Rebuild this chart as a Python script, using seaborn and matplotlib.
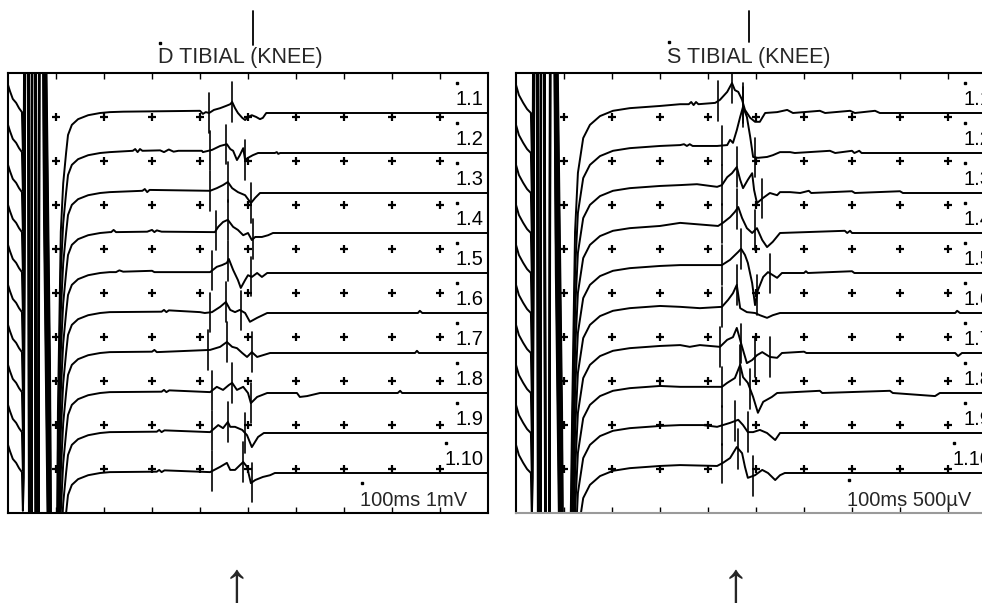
import numpy as np
import pandas as pd
import matplotlib
matplotlib.use("Agg")
import matplotlib.pyplot as plt
from matplotlib.lines import Line2D
import seaborn as sns

# ---------------- data (time in ms, amplitude in display divisions, up = +) -------------
TITLES = ["D TIBIAL (KNEE)", "S TIBIAL (KNEE)"]
SCALE_TEXT = ["100ms 1mV", "100ms 500µV"]
TRACE_LABELS = ["1.1", "1.2", "1.3", "1.4", "1.5", "1.6", "1.7", "1.8", "1.9", "1.10"]
GRID_T = [100, 200, 300, 400, 500, 600, 700, 800, 900]
GRID_ROWS = [1, 2, 3, 4, 5, 6, 7, 8, 9]

# stimulus artefact + recovery (shared by the traces of one panel)
D_ART = [(0, .64), (4, .5), (10, .32), (17, .23), (23, .11), (29, .02), (31, -.86), (33, -.11),
         (37.5, 14), (42, 14), (45, -14), (48, -14), (51, 14), (56, 14), (59, -14), (62.5, -14),
         (66, 14), (71, 14), (75, 5.7), (87.5, -5.7), (92, -14), (100, -14), (104, -6.8),
         (110, -2.7), (115, -1.6), (121, -.91), (125, -.5), (133, -.27), (146, -.14),
         (167, -.05), (192, 0), (212, .02)]
S_ART = [(0, .64), (6, .41), (15, .23), (23, .09), (31, 0), (33, -1.0), (35, -.11),
         (40, 14), (44, 14), (47, -14), (50, -14), (53, 14), (58, 14), (62.5, -14), (69, -14),
         (72, 14), (77, 14), (83, 4.5), (96, -6.8), (100, -14), (108, -14), (117, -6.8),
         (123, -2.7), (129, -1.36), (140, -.57), (154, -.27), (175, -.07), (202, .05),
         (237, .11), (300, .16)]

# left panel (D TIBIAL) responses
D1 = [(240, .03), (400, .05), (406, -.02), (412, .02), (419, 0), (429, .07), (442, .11), (454, .16),
      (463, .2), (467, .25), (473, .11), (479, 0), (488, -.11), (494, -.16), (500, -.09),
      (508, -.05), (517, -.09), (525, -.14), (531, -.11), (538, 0), (1000, 0)]
D2 = [(260, .05), (265, .09), (270, .02), (275, .09), (280, .05), (317, .06), (325, .02),
      (335, .08), (345, .03), (355, .05), (404, .05), (406, .02), (425, .07), (442, .16),
      (456, .2), (463, .09), (469, .05), (477, -.16), (483, -.05), (490, .11), (494, -.16),
      (500, -.11), (510, -.05), (521, 0), (556, 0), (560, .02), (563, -.02), (567, 0), (1000, 0)]
D3 = [(280, .05), (285, .09), (290, .02), (295, .07), (421, .05), (435, .11), (448, .18),
      (458, .25), (467, .11), (479, .02), (494, -.05), (506, -.23), (515, -.11), (525, 0), (1000, 0)]
D4 = [(215, .02), (220, .07), (225, .02), (290, .03), (300, .07), (305, .02), (310, .06),
      (320, .03), (431, .02), (438, .14), (448, .25), (458, .3), (469, .14), (479, .07),
      (490, -.05), (500, 0), (508, -.16), (515, -.09), (529, -.09), (542, -.05), (552, 0), (1000, 0)]
D5 = [(225, .02), (232, .06), (240, .03), (300, .05), (305, .02), (421, .02), (435, .14),
      (446, .18), (456, .23), (460, .32), (469, .07), (479, -.16), (485, -.34), (494, -.16),
      (500, -.05), (508, -.09), (519, 0), (529, -.09), (540, 0), (1000, 0)]
D6 = [(320, .03), (325, .07), (330, .02), (335, .06), (400, .02), (410, 0), (425, .02),
      (442, .14), (454, .25), (463, .07), (473, .02), (483, .07), (494, 0), (504, -.2),
      (519, -.11), (540, 0), (854, 0), (858, .05), (863, 0), (1000, 0)]
D7 = [(300, .03), (305, .07), (310, .02), (421, .07), (442, .14), (456, .25), (467, .14),
      (477, .11), (488, 0), (498, -.09), (508, .02), (519, -.09), (531, -.05), (546, 0),
      (848, 0), (852, .05), (856, 0), (1000, 0)]
D8 = [(320, .03), (325, .07), (330, .02), (336, .06), (421, .02), (435, .14), (448, .07),
      (460, .18), (467, .23), (477, .07), (490, .14), (500, 0), (506, -.23), (519, -.09),
      (540, 0), (602, 0), (608, -.09), (623, -.07), (650, 0), (812, 0), (817, .05), (821, 0), (1000, 0)]
D9 = [(310, .03), (315, .07), (320, .02), (326, .06), (421, .02), (438, .18), (448, .11),
      (458, .25), (463, .14), (473, .14), (488, .07), (498, -.05), (508, -.32), (521, -.09),
      (533, 0), (1000, 0)]
D10 = [(310, .03), (315, .07), (320, .02), (326, .06), (421, .02), (442, .14), (456, .23),
       (463, .07), (473, .07), (490, .25), (498, .14), (506, -.23), (515, -.16), (531, -.09),
       (546, -.05), (556, 0), (1000, 0)]
D_MARK = [[419, 467], [421, 454, 494], [421, 458, 506], [433, 458, 510], [425, 458, 506],
          [421, 454, 485], [417, 456, 508], [425, 467, 506], [425, 458, 494], [425, 490, 508]]

# right panel (S TIBIAL) responses
S1 = [(342, .2), (360, .2), (365, .25), (370, .18), (375, .25), (380, .2), (415, .23), (425, .3),
      (440, .48), (450, .68), (456, .52), (463, .48), (471, .3), (477, .07), (488, -.11),
      (498, -.2), (508, -.2), (519, 0), (544, .02), (565, .07), (577, 0), (633, .05), (644, 0),
      (696, .05), (706, 0), (748, .05), (758, 0), (1000, 0)]
S2 = [(342, .18), (350, .2), (356, .16), (362, .2), (368, .16), (419, .16), (440, .18), (446, .3),
      (452, .23), (460, .52), (467, .82), (473, 1.05), (481, .82), (488, .36), (494, -.09),
      (504, -.11), (523, -.09), (535, -.05), (550, .02), (571, .02), (581, 0), (654, .05),
      (665, 0), (700, .05), (705, 0), (715, .05), (720, 0), (1000, 0)]
S3 = [(342, .18), (377, .2), (419, .14), (429, .18), (440, .36), (450, .45), (460, .59),
      (467, .3), (473, .11), (483, .3), (492, .45), (496, .07), (502, -.23), (515, -.11),
      (529, 0), (544, -.05), (550, .02), (571, .02), (592, 0), (610, .05), (615, 0), (700, .04),
      (706, 0), (800, .04), (806, 0), (1000, 0)]
S4 = [(342, .23), (421, .16), (431, .23), (446, .36), (456, .48), (463, .59), (471, .34),
      (481, .11), (492, 0), (502, .11), (513, -.16), (523, -.32), (535, -.2), (550, 0),
      (685, .05), (690, 0), (696, .05), (700, 0), (1000, 0)]
S5 = [(342, .18), (429, .18), (446, .3), (463, .48), (469, .55), (477, .41), (483, .23),
      (492, -.23), (498, -.73), (504, -.39), (515, -.09), (525, .02), (544, -.11), (554, 0),
      (600, 0), (604, .04), (608, 0), (700, .04), (705, 0), (1000, 0)]
S6 = [(342, .14), (383, .11), (429, .14), (442, .3), (452, .45), (460, .64), (467, .11),
      (481, .02), (498, 0), (508, -.05), (523, -.11), (535, -.05), (550, 0), (915, 0),
      (919, .05), (925, 0), (1000, 0)]
S7 = [(342, .18), (362, .14), (383, .18), (425, .14), (440, .3), (452, .36), (460, .57),
      (471, .14), (481, -.23), (492, -.16), (502, -.05), (513, .02), (529, -.09), (544, -.11),
      (554, 0), (600, .03), (605, 0), (915, 0), (921, -.07), (929, 0), (1000, 0)]
S8 = [(342, .14), (429, .14), (440, .23), (456, .34), (467, .64), (473, .36), (483, .23),
      (494, -.09), (504, -.45), (515, -.2), (533, -.09), (544, 0), (633, .05), (638, 0),
      (779, .05), (785, 0), (873, -.07), (883, 0), (1000, 0)]
S9 = [(342, .18), (390, .18), (419, .14), (446, .23), (463, .3), (473, .18), (483, .02),
      (494, .02), (508, .07), (523, 0), (540, -.16), (550, 0), (1000, 0)]
S10 = [(342, .18), (419, .16), (431, .23), (446, .34), (460, .59), (471, .45), (477, .14),
       (483, -.11), (498, -.05), (513, .07), (525, 0), (540, -.16), (550, -.05), (560, 0), (1000, 0)]
S_MARK = [[421, 450, 473], [429, 473, 498], [429, 460, 513], [429, 460, 498], [429, 469, 502, 529],
          [429, 460], [425, 469, 498, 529], [429, 467, 488], [429, 456, 483], [429, 463, 494]]

# ---------------- styling ----------------
sns.set_theme(style="white")
plt.rcParams["font.family"] = ["Liberation Sans", "DejaVu Sans"]

W, H = 982, 608
fig = plt.figure(figsize=(W / 100, H / 100), dpi=100)
fig.patch.set_facecolor("white")


def rect(x0, y0, w, h):
    return [x0 / W, 1 - (y0 + h) / H, w / W, h / H]


axL = fig.add_axes(rect(8, 73, 480, 440))
axR = fig.add_axes(rect(516, 73, 480, 440))

ROW = 10 / 11  # trace spacing in divisions

panels = [
    (axL, D_ART, [D1, D2, D3, D4, D5, D6, D7, D8, D9, D10], D_MARK),
    (axR, S_ART, [S1, S2, S3, S4, S5, S6, S7, S8, S9, S10], S_MARK),
]

for ax, art, traces, marks in panels:
    rows = []
    full_traces = []
    for k, pts in enumerate(traces, start=1):
        full = art + pts
        full_traces.append(full)
        for t, a in full:
            rows.append({"trace": k, "t": t, "y": k * ROW - a})
    df = pd.DataFrame(rows)
    sns.lineplot(data=df, x="t", y="y", units="trace", estimator=None, sort=False,
                 color="black", lw=1.4, ax=ax, legend=False)
    # cursor marks
    for k, (full, mk) in enumerate(zip(full_traces, marks), start=1):
        T = np.array([p[0] for p in full])
        A = np.array([p[1] for p in full])
        for t in mk:
            yc = k * ROW - np.interp(t, T, A)
            ax.plot([t, t], [yc - 0.45, yc + 0.45], color="black", lw=1.2)
    # grid dots
    gx, gy = np.meshgrid(GRID_T, GRID_ROWS)
    ax.plot(gx.ravel(), gy.ravel(), ls="none", marker="+", ms=5.5, mew=1.6, color="black")
    ax.set_xlim(0, 1000)
    ax.set_ylim(10, 0)
    ax.set_xticks(GRID_T)
    ax.set_yticks([])
    ax.tick_params(axis="x", direction="in", length=4, width=1, top=True, bottom=True,
                   labelbottom=False, labeltop=False, color="black")
    ax.set_xlabel("")
    ax.set_ylabel("")
    for s in ax.spines.values():
        s.set_color("black")
        s.set_linewidth(1.5)
    ax.set_facecolor("white")

axR.spines["bottom"].set_color("#9a9a9a")

# trace labels
label_texts = []
for ax in (axL, axR):
    for k, lab in enumerate(TRACE_LABELS, start=1):
        tx = ax.text(990, k * ROW - 8 / 44, lab, ha="right", va="baseline", fontsize=14.5,
                     color="black")
        label_texts.append((ax, tx, k * ROW - 30 / 44))

sc1 = axL.text(733, 9.84, SCALE_TEXT[0], ha="left", va="baseline", fontsize=14.5)
sc2 = axR.text(690, 9.84, SCALE_TEXT[1], ha="left", va="baseline", fontsize=14.5)
label_texts.append((axL, sc1, 9.32))
label_texts.append((axR, sc2, 9.25))

fig.canvas.draw()
r = fig.canvas.get_renderer()
for ax, tx, ydot in label_texts:
    bb = tx.get_window_extent(r)
    xd = ax.transData.inverted().transform((bb.x0 + 2, 0))[0]
    ax.plot([xd], [ydot], ls="none", marker="s", ms=1.6, color="black", clip_on=False)

# titles with cursor bars
fig.text(240 / W, 1 - 58 / H, TITLES[0], ha="center", va="center", fontsize=15.5)
fig.text(749 / W, 1 - 58 / H, TITLES[1], ha="center", va="center", fontsize=15.5)
for xb, y1, y2 in [(253, 11, 45), (749, 11, 42)]:
    fig.add_artist(Line2D([xb / W, xb / W], [1 - y1 / H, 1 - y2 / H], color="black", lw=1.3))
for xd, yd in [(160, 43), (669, 42)]:
    fig.add_artist(Line2D([xd / W], [1 - yd / H], ls="none", marker="s", ms=1.6, color="black"))

# arrows below panels
fig.text(236 / W, 1 - 587 / H, "↑", ha="center", va="center", fontsize=40)
fig.text(735 / W, 1 - 587 / H, "↑", ha="center", va="center", fontsize=40)

fig.savefig("out.png", dpi=100, facecolor="white")
